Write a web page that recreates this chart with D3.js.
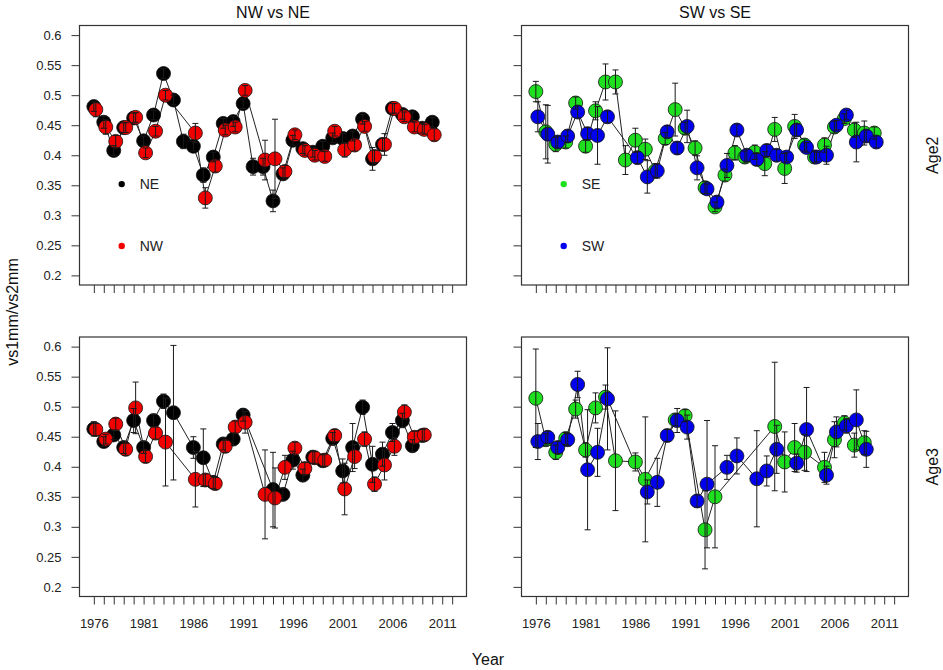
<!DOCTYPE html>
<html>
<head>
<meta charset="utf-8">
<script src="https://cdnjs.cloudflare.com/ajax/libs/d3/7.8.5/d3.min.js"></script>
<style>
	body { margin: 0; background: #fff; }
	text { font-family: "Liberation Sans", Arial, sans-serif; }
</style>
</head>
<body>
<div id="chart"></div>
<script>
// categories and ticks
var years = [1976, 1977, 1978, 1979, 1980, 1981, 1982, 1983, 1984, 1985,
	1986, 1987, 1988, 1989, 1990, 1991, 1992, 1993, 1994, 1995,
	1996, 1997, 1998, 1999, 2000, 2001, 2002, 2003, 2004, 2005,
	2006, 2007, 2008, 2009, 2010];
var tickYears = [1976, 1977, 1978, 1979, 1980, 1981, 1982, 1983, 1984, 1985,
	1986, 1987, 1988, 1989, 1990, 1991, 1992, 1993, 1994, 1995,
	1996, 1997, 1998, 1999, 2000, 2001, 2002, 2003, 2004, 2005,
	2006, 2007, 2008, 2009, 2010, 2011, 2012];
var tickLabels = [1976, 1981, 1986, 1991, 1996, 2001, 2006, 2011];
var yTicks = [0.2, 0.25, 0.3, 0.35, 0.4, 0.45, 0.5, 0.55, 0.6];
var panelTitles = ["NW vs NE", "SW vs SE"];
var rowLabels = ["Age2", "Age3"];

// Age2, north
var ne2 = [.481, .455, .408, .446, .462, .424, .467, .536, .492, .423,
	.415, .367, .397, .453, .456, .486, .381, .381, .324, .369,
	.425, .411, .405, .415, .429, .428, .432, .460, .394, .418,
	.478, .468, .464, .445, .455];
var ne2Err = [.008, .01, .008, .008, .008, .008, .008, .008, .008, .012,
	.008, .012, .008, .008, .008, .008, .014, .014, .018, .01,
	.008, .008, .008, .008, .008, .008, .008, .008, .019, .01,
	.008, .008, .008, .008, .008];
var nw2 = [.476, .447, .423, .446, .463, .404, .440, .500, null, null,
	.437, .329, .382, .442, .447, .508, null, .392, .394, .373,
	.434, .408, .400, .398, .440, .409, .417, .448, .398, .418,
	.478, .464, .447, .443, .434];
var nw2Err = [.012, .012, .01, .008, .008, .008, .008, .008, null, null,
	.016, .017, .01, .008, .008, .008, null, .033, .066, .01,
	.008, .008, .008, .008, .008, .012, .01, .008, .01, .018,
	.008, .008, .008, .008, .01];

// Age2, south
var se2 = [.506, .439, .418, .422, .487, .415, .474, .522, .522, .392,
	.425, .410, .374, .428, .476, .445, .412, .346, .314, .367,
	.404, .397, .405, .386, .443, .378, .448, .417, .397, .417,
	.447, .461, .442, .437, .437];
var se2Err = [.017, .045, .012, .01, .01, .01, .015, .03, .02, .024,
	.02, .017, .012, .01, .044, .01, .012, .01, .008, .01,
	.012, .01, .012, .02, .02, .025, .02, .01, .01, .012,
	.01, .008, .012, .02, .01];
var sw2 = [.464, .435, .422, .432, .472, .436, .433, .464, null, null,
	.396, .364, .374, .439, .412, .448, .379, .344, .322, .383,
	.442, .400, .393, .408, .400, .397, .442, .413, .397, .400,
	.450, .467, .422, .432, .422];
var sw2Err = [.025, .048, .01, .01, .01, .01, .048, .01, null, null,
	.01, .027, .012, .01, .01, .027, .02, .008, .01, .02,
	.01, .01, .01, .01, .01, .008, .01, .008, .008, .015,
	.008, .008, .033, .01, .01];

// Age3, north
var ne3 = [.463, .442, .453, .432, .477, .432, .477, .509, .490, null,
	.432, .415, .374, .438, .446, .486, null, null, .362, .354,
	.411, .386, .416, .410, .447, .393, .432, .499, .404, .421,
	.457, .477, .435, .452, null];
var ne3Err = [.012, .008, .008, .01, .02, .01, .01, .012, .112, null,
	.018, .048, .01, .01, .01, .01, null, null, .062, .01,
	.015, .01, .01, .01, .01, .02, .04, .012, .03, .02,
	.015, .012, .01, .01, null];
var nw3 = [.462, .446, .471, .429, .498, .417, .456, .441, null, null,
	.379, .378, .372, .434, .466, .474, null, .354, .348, .399,
	.431, .397, .415, .411, .452, .363, .417, .446, .371, .403,
	.434, .491, .449, .453, null];
var nw3Err = [.01, .008, .01, .01, .043, .01, .01, .073, null, null,
	.046, .01, .01, .01, .01, .018, null, .074, .05, .02,
	.01, .01, .01, .01, .01, .043, .02, .012, .012, .025,
	.015, .012, .01, .01, null];

// Age3, south
var se3 = [.514, .445, .424, .447, .496, .428, .498, .516, .410, null,
	.408, .379, null, null, .478, .485, null, .295, .350, null,
	null, null, null, null, .467, .408, .432, .424, null, .399,
	.445, .473, .436, .440, null];
var se3Err = [.082, .01, .012, .01, .015, .012, .025, .02, .083, null,
	.015, .104, null, null, .01, .01, null, .065, .085, null,
	null, null, null, null, .107, .05, .04, .03, null, .025,
	.03, .012, .02, .02, null];
var sw3 = [.442, .449, .432, .445, .537, .395, .424, .513, null, null,
	null, .358, .374, .452, .477, .466, .343, .371, null, .399,
	.418, null, .380, .393, .429, null, .406, .462, null, .386,
	.458, .468, .478, .429, null];
var sw3Err = [.03, .01, .01, .01, .022, .1, .04, .085, null, null,
	null, .02, .04, .01, .02, .02, .01, .106, null, .02,
	.03, null, .08, .025, .04, null, .015, .07, null, .015,
	.025, .012, .05, .03, null];

var panels = [
	{col: 0, row: 0, series: [
		{name: "NE", vals: ne2, err: ne2Err, fill: "#000000", shift: 0},
		{name: "NW", vals: nw2, err: nw2Err, fill: "#f20000", shift: 0.2}]},
	{col: 1, row: 0, series: [
		{name: "SE", vals: se2, err: se2Err, fill: "#1ee01e", shift: 0},
		{name: "SW", vals: sw2, err: sw2Err, fill: "#0000ee", shift: 0.2}]},
	{col: 0, row: 1, series: [
		{name: "NE", vals: ne3, err: ne3Err, fill: "#000000", shift: 0},
		{name: "NW", vals: nw3, err: nw3Err, fill: "#f20000", shift: 0.2}]},
	{col: 1, row: 1, series: [
		{name: "SE", vals: se3, err: se3Err, fill: "#1ee01e", shift: 0},
		{name: "SW", vals: sw3, err: sw3Err, fill: "#0000ee", shift: 0.2}]}
];

var width = 943, height = 670;
var colLeft = [79.5, 521.5], rowTop = [25.5, 337];
var pw = 387, ph = 259.5;

var svg = d3.select("#chart")
	.append("svg")
		.attr("width", width)
		.attr("height", height);

var x = d3.scaleLinear().domain([1974.56, 2013.44]).range([0, pw]);
var y = d3.scaleLinear().domain([0.184, 0.616]).range([ph, 0]);

panels.forEach(p => {
	var g = svg.append("g")
		.attr("transform", "translate(" + colLeft[p.col] + "," + rowTop[p.row] + ")");

	var xAxis = d3.axisBottom(x)
		.tickValues(tickYears)
		.tickSize(8)
		.tickPadding(14)
		.tickFormat(d => (p.row == 1 && tickLabels.indexOf(d) >= 0) ? d : "");
	var gx = g.append("g")
		.attr("transform", "translate(0," + ph + ")")
		.call(xAxis);

	var yAxis = d3.axisLeft(y)
		.tickValues(yTicks)
		.tickSize(8)
		.tickPadding(10)
		.tickFormat(d => p.col == 0 ? String(d) : "");
	var gy = g.append("g").call(yAxis);

	[gx, gy].forEach(a => {
		a.select(".domain").remove();
		a.selectAll("line").attr("stroke", "#333");
		a.selectAll("text")
			.attr("fill", "#222")
			.style("font-size", "13px")
			.style("font-family", "'Liberation Sans', Arial, sans-serif");
	});

	g.append("rect")
		.attr("width", pw)
		.attr("height", ph)
		.attr("fill", "none")
		.attr("stroke", "#333")
		.attr("stroke-width", 1.2);

	var line = d3.line()
		.x(d => x(d.year))
		.y(d => y(d.v));

	var pts = p.series.map(s => years
		.map((yr, i) => ({year: yr + s.shift, v: s.vals[i], e: s.err[i]}))
		.filter(d => d.v != null));

	pts.forEach(d => {
		g.append("path")
			.datum(d)
			.attr("d", line)
			.attr("fill", "none")
			.attr("stroke", "#222")
			.attr("stroke-width", 1);
	});

	pts.forEach((d, k) => {
		g.append("g")
			.selectAll("circle")
			.data(d)
			.enter()
				.append("circle")
				.attr("cx", d => x(d.year))
				.attr("cy", d => y(d.v))
				.attr("r", 7)
				.attr("fill", p.series[k].fill)
				.attr("stroke", "#111")
				.attr("stroke-width", 0.8);
	});

	// error bars on top
	pts.forEach(d => {
		var eb = g.append("g")
			.attr("stroke", "#1a1a1a")
			.attr("stroke-width", 1)
			.selectAll("g")
			.data(d)
			.enter()
				.append("g");
		eb.append("line")
			.attr("x1", d => x(d.year)).attr("x2", d => x(d.year))
			.attr("y1", d => y(d.v - d.e)).attr("y2", d => y(d.v + d.e));
		eb.append("line")
			.attr("x1", d => x(d.year) - 3).attr("x2", d => x(d.year) + 3)
			.attr("y1", d => y(d.v + d.e)).attr("y2", d => y(d.v + d.e));
		eb.append("line")
			.attr("x1", d => x(d.year) - 3).attr("x2", d => x(d.year) + 3)
			.attr("y1", d => y(d.v - d.e)).attr("y2", d => y(d.v - d.e));
	});

	// legend in the upper row only
	if (p.row == 0) {
		var legY = [0.352, 0.249];
		p.series.forEach((s, k) => {
			g.append("circle")
				.attr("cx", x(1978.8))
				.attr("cy", y(legY[k]))
				.attr("r", 3.2)
				.attr("fill", s.fill);
			g.append("text")
				.attr("x", x(1978.8) + 18)
				.attr("y", y(legY[k]))
				.attr("dy", "0.36em")
				.attr("fill", "#222")
				.style("font-size", "14px")
				.text(s.name);
		});
		g.append("text")
			.attr("x", pw / 2)
			.attr("y", -8)
			.attr("text-anchor", "middle")
			.attr("fill", "#111")
			.style("font-size", "16px")
			.text(panelTitles[p.col]);
	}

	if (p.col == 1) {
		g.append("text")
			.attr("transform", "translate(" + (pw + 29) + "," + (ph / 2) + ") rotate(-90)")
			.attr("text-anchor", "middle")
			.attr("fill", "#111")
			.style("font-size", "16px")
			.text(rowLabels[p.row]);
	}
});

svg.append("text")
	.attr("transform", "translate(18,312) rotate(-90)")
	.attr("text-anchor", "middle")
	.attr("fill", "#111")
	.style("font-size", "16px")
	.text("vs1mm/vs2mm");

svg.append("text")
	.attr("x", 488)
	.attr("y", 665)
	.attr("text-anchor", "middle")
	.attr("fill", "#111")
	.style("font-size", "16px")
	.text("Year");
</script>
</body>
</html>
